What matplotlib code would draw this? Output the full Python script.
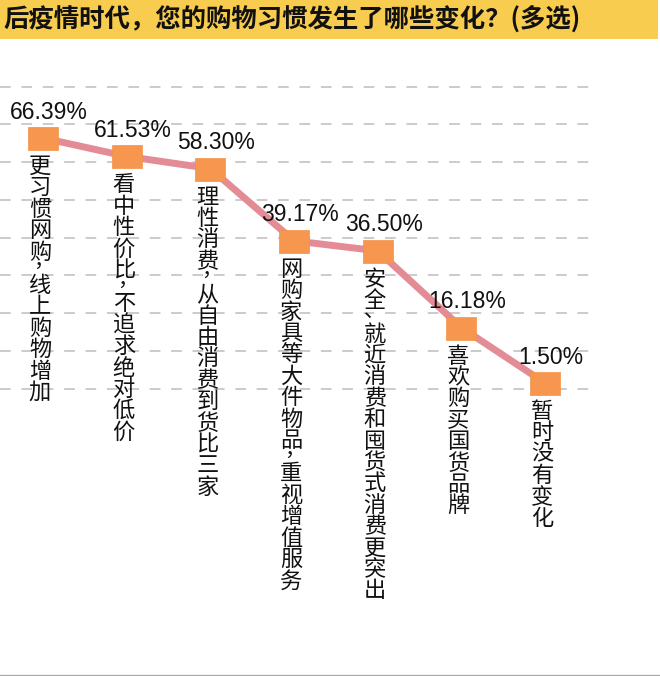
import matplotlib
matplotlib.use('Agg')
import matplotlib.pyplot as plt
import numpy as np

plt.rcParams['font.family'] = ['Noto Sans CJK SC', 'DejaVu Sans']

# --- data ---
title = '后疫情时代，您的购物习惯发生了哪些变化？(多选)'
categories = [
    '更习惯网购，线上购物增加',
    '看中性价比，不追求绝对低价',
    '理性消费，从自由消费到货比三家',
    '网购家具等大件物品，重视增值服务',
    '安全、就近消费和囤货式消费更突出',
    '喜欢购买国货品牌',
    '暂时没有变化',
]
values = [66.39, 61.53, 58.30, 39.17, 36.50, 16.18, 1.50]
grid_levels = [0, 10, 20, 30, 40, 50, 60, 70, 80]

# --- figure ---
fig = plt.figure(figsize=(6.6, 6.76), dpi=100)
fig.patch.set_facecolor('white')

# yellow title banner
banner = fig.add_axes([0, 1 - 39 / 676, 658 / 660, 39 / 676])
banner.set_facecolor('#F8CC4E')
banner.set_xticks([])
banner.set_yticks([])
for s in banner.spines.values():
    s.set_visible(False)
banner.text(0.006, 0.5, title, transform=banner.transAxes, ha='left', va='center',
            fontsize=18.3, fontweight='bold', color='#111111')

# main chart
ax = fig.add_axes([0, 0, 1, 636 / 676])
ax.set_xlim(-0.514, 7.374)
ax.set_ylim(-76.09, 92.35)
ax.axis('off')

x = np.arange(len(values))

# dashed grid
ax.hlines(grid_levels, -0.514, 6.56, colors='#BDBDBD', linestyles=(0, (7, 7)), lw=1.1, zorder=1)

# line + markers
ax.plot(x, values, color='#E38C95', lw=5, zorder=2, solid_capstyle='butt')
rect = [(-15, -11.5), (15, -11.5), (15, 11.5), (-15, 11.5), (-15, -11.5)]
ax.plot(x, values, ls='none', marker=rect, ms=21.6, color='#F7964F',
        markeredgecolor='#F29048', markeredgewidth=0.5, zorder=3)

for i, (v, cat) in enumerate(zip(values, categories)):
    ax.annotate(f'{v:.2f}%', (i, v), xytext=(6, 26), textcoords='offset pixels',
                ha='center', va='center', fontsize=16.5, family='Liberation Sans',
                color='#111111', zorder=4)
    # vertical label, one character under another
    cursor = 17
    for ch in cat:
        if ch in '，、':
            dx = 4 if ch == '，' else 0
            ax.annotate(ch, (i, v), xytext=(dx - 3, -(cursor + 6)), textcoords='offset pixels',
                        ha='center', va='baseline', fontsize=15, color='#111111', zorder=4)
            cursor += 12
        else:
            ax.annotate(ch, (i, v), xytext=(-3, -cursor), textcoords='offset pixels',
                        ha='center', va='top', fontsize=16, color='#111111', zorder=4)
            cursor += 21.4

fig.add_artist(plt.Line2D([0, 1], [0.0015, 0.0015], color='#AAAAAA', lw=1))

fig.savefig('out.png', dpi=100)
